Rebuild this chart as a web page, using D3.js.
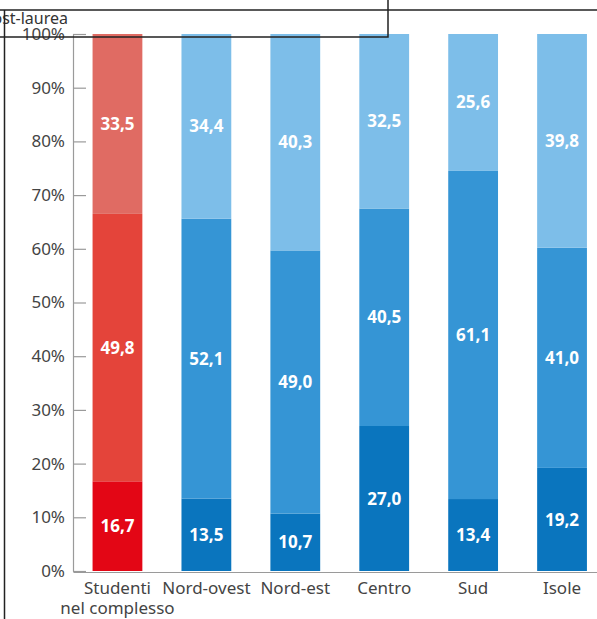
<!DOCTYPE html>
<html>
<head>
<meta charset="utf-8">
<script src="https://cdn.jsdelivr.net/npm/d3@7"></script>
<style>
	body { margin: 0; background: #fff; }
	svg { display: block; }
</style>
</head>
<body>
<div class="chart stacked-bars"></div>
<script>
const categories = ["Studenti|nel complesso", "Nord-ovest", "Nord-est", "Centro", "Sud", "Isole"];
const bottomValues = [16.7, 13.5, 10.7, 27.0, 13.4, 19.2];
const middleValues = [49.8, 52.1, 49.0, 40.5, 61.1, 41.0];
const topValues = [33.5, 34.4, 40.3, 32.5, 25.6, 39.8];
const yTicks = [0, 10, 20, 30, 40, 50, 60, 70, 80, 90, 100];
const keys = ["bottom", "middle", "top"];

const redColors = { bottom: "#e30615", middle: "#e4443a", top: "#e06b63" };
const blueColors = { bottom: "#0a75be", middle: "#3595d5", top: "#7dbee9" };

const width = 597;
const height = 619;

const table = categories.map((c, i) => ({
	category: c,
	bottom: bottomValues[i],
	middle: middleValues[i],
	top: topValues[i],
}));

const stack = d3.stack().keys(keys);
const series = stack(table);

const xScale = d3
	.scaleBand()
	.domain(categories)
	.range([73, 606.5])
	.paddingInner(0.44)
	.paddingOuter(0.22);

const yScale = d3.scaleLinear().domain([0, 100]).range([571, 34]).clamp(true);

const svg = d3
	.select(".stacked-bars")
	.append("svg")
	.attr("width", width)
	.attr("height", height);

// bars
series.forEach((s) => {
	svg.append("g")
		.selectAll("rect")
		.data(s)
		.join("rect")
		.attr("x", (d) => xScale(d.data.category))
		.attr("y", (d) => yScale(d[1]))
		.attr("width", xScale.bandwidth())
		.attr("height", (d) => yScale(d[0]) - yScale(d[1]))
		.attr("fill", (d, i) => (i === 0 ? redColors[s.key] : blueColors[s.key]));
});

// value labels
series.forEach((s) => {
	svg.append("g")
		.selectAll("text")
		.data(s)
		.join("text")
		.attr("x", (d) => xScale(d.data.category) + xScale.bandwidth() / 2)
		.attr("y", (d) => yScale((d[0] + d[1]) / 2))
		.attr("dy", "0.36em")
		.attr("text-anchor", "middle")
		.attr("fill", "#fff")
		.style("font-family", "'Open Sans', sans-serif")
		.style("font-weight", "700")
		.style("font-size", "17px")
		.text((d) => d3.format(".1f")(d[1] - d[0]).replace(".", ","));
});

// y axis
const yAxis = svg
	.append("g")
	.attr("transform", "translate(73,0)")
	.call(
		d3
			.axisLeft(yScale)
			.tickValues(yTicks)
			.tickSizeInner(-13)
			.tickSizeOuter(0)
			.tickPadding(8)
			.tickFormat((d) => d + "%")
	);
yAxis.selectAll("path, line").attr("stroke", "#9a9a9a").attr("stroke-width", 1.2);
yAxis.selectAll("text")
	.attr("fill", "#444")
	.style("font-family", "'Noto Sans', sans-serif")
	.style("font-size", "17px");

// x axis
const xAxis = svg
	.append("g")
	.attr("transform", "translate(0,572)")
	.call(d3.axisBottom(xScale).tickSize(0).tickSizeOuter(0).tickPadding(0));
xAxis.select(".domain").attr("stroke", "#9a9a9a").attr("stroke-width", 1.2);
xAxis.selectAll(".tick text").remove();
xAxis.selectAll(".tick")
	.append("text")
	.attr("fill", "#444")
	.attr("text-anchor", "middle")
	.style("font-family", "'Noto Sans', sans-serif")
	.style("font-size", "17px")
	.selectAll("tspan")
	.data((d) => d.split("|"))
	.join("tspan")
	.attr("x", 0)
	.attr("y", (d, i) => 22 + i * 20)
	.text((d) => d);

// clipped legend text and frame
svg.append("text")
	.attr("x", 68)
	.attr("y", 24)
	.attr("text-anchor", "end")
	.attr("fill", "#333")
	.style("font-family", "'Noto Sans', sans-serif")
	.style("font-size", "16px")
	.text("Post-laurea");

const frame = svg.append("g").attr("stroke", "#222").attr("stroke-width", 1.5).attr("fill", "none");
frame.append("path").attr("d", "M0,10H597");
frame.append("path").attr("d", "M388,0V37H0");
frame.append("path").attr("d", "M4.5,10V619");
</script>
</body>
</html>
